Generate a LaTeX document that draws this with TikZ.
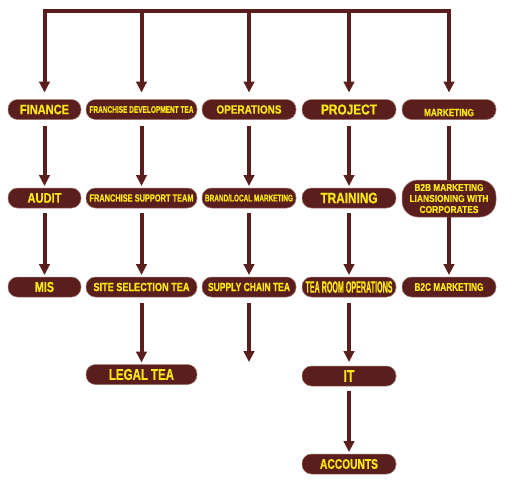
\documentclass[tikz,border=0pt]{standalone}
\usepackage{graphicx}
\usepackage{fontspec}
\setmainfont{Liberation Sans}[BoldFeatures={FakeBold=0.8}]
\usetikzlibrary{arrows.meta}
\definecolor{maroon}{RGB}{90,30,28}
\definecolor{yel}{RGB}{250,232,20}
\definecolor{edge}{RGB}{160,120,115}
\newcommand{\bt}[3]{\resizebox{#1pt}{#2pt}{\bfseries #3}}
\begin{document}
\begin{tikzpicture}[x=1pt,y=-1pt,
  box/.style={rectangle, rounded corners=9.5pt, fill=maroon, draw=edge, line width=0.5pt,
    inner sep=0pt, outer sep=0pt, minimum height=20pt, minimum width=94pt, text=yel},
  wide/.style={minimum width=111pt},
  narrow/.style={minimum width=73pt},
  lineconn/.style={draw=maroon, line width=4pt, line join=miter},
  arr/.style={lineconn, -{Triangle[width=10.5pt,length=11pt]}}
]
\useasboundingbox (0,0) rectangle (512,488);
\fill[white] (0,0) rectangle (512,488);

% row 1
\node[box, narrow] (fin) at (44.5,109.5) {\bt{49}{9.5}{FINANCE}};
\node[box, wide] (fdev) at (141.5,109.5) {\bt{104}{6.7}{FRANCHISE DEVELOPMENT TEA}};
\node[box] (ops) at (249,109.5) {\bt{65}{8.3}{OPERATIONS}};
\node[box] (proj) at (349,109.5) {\bt{56}{10}{PROJECT}};
\node[box] (mkt) at (449,109.5) {\raisebox{-3pt}[7.3pt][0pt]{\bt{50}{7.3}{MARKETING}}};

% row 2
\node[box, narrow] (aud) at (44.5,198) {\bt{34}{9.5}{AUDIT}};
\node[box, wide] (fsup) at (141.5,198) {\bt{104}{7.3}{FRANCHISE SUPPORT TEAM}};
\node[box] (brand) at (249,198) {\bt{88}{7}{BRAND/LOCAL MARKETING}};
\node[box] (train) at (349,198) {\bt{57}{10.5}{TRAINING}};
\node[box, minimum height=37pt, rounded corners=16pt, align=center,
  font=\fontsize{8}{11}\selectfont] (b2b) at (449,198.5)
  {\bt{69}{7}{B2B MARKETING}\\\bt{79}{7}{LIANSIONING WITH}\\\bt{59}{7}{CORPORATES}};

% row 3
\node[box, narrow] (mis) at (44.5,287) {\bt{19}{10}{MIS}};
\node[box, wide] (ssel) at (141.5,287) {\bt{96}{8.3}{SITE SELECTION TEA}};
\node[box] (sup) at (249,287) {\bt{82}{8.3}{SUPPLY CHAIN TEA}};
\node[box] (tro) at (349,287) {\bt{87}{11.5}{TEA ROOM OPERATIONS}};
\node[box] (b2c) at (449,287) {\bt{69}{7.7}{B2C MARKETING}};

% row 4
\node[box, wide] (legal) at (141.5,374.5) {\bt{65}{11}{LEGAL TEA}};
\node[box] (it) at (349,376) {\bt{11}{11.5}{IT}};
\node[box] (acc) at (349,464) {\bt{58}{9.7}{ACCOUNTS}};

\coordinate (bar) at (249,10.5);
\coordinate (supend) at (249,362);

% top distribution
\draw[lineconn, {Triangle[width=10.5pt,length=11pt]}-{Triangle[width=10.5pt,length=11pt]},
  shorten <=7pt, shorten >=7pt] (fin.north) |- (bar) -| (mkt.north);
\draw[arr, shorten >=7pt] (bar -| fdev) -- (fdev);
\draw[arr, shorten >=7pt] (bar) -- (ops);
\draw[arr, shorten >=7pt] (bar -| proj) -- (proj);

% row 1 -> row 2
\draw[arr, shorten <=6pt, shorten >=2pt] (fin) -- (aud);
\draw[arr, shorten <=6pt, shorten >=2pt] (fdev) -- (fsup);
\draw[arr, shorten <=6pt, shorten >=2pt] (ops) -- (brand);
\draw[arr, shorten <=6pt, shorten >=2pt] (proj) -- (train);
\draw[lineconn, shorten <=6pt] (mkt) -- (b2b);

% row 2 -> row 3
\draw[arr, shorten <=5pt, shorten >=2pt] (aud) -- (mis);
\draw[arr, shorten <=5pt, shorten >=2pt] (fsup) -- (ssel);
\draw[arr, shorten <=5pt, shorten >=2pt] (brand) -- (sup);
\draw[arr, shorten <=5pt, shorten >=2pt] (train) -- (tro);
\draw[arr, shorten >=2pt] (b2b) -- (b2c);

% row 3 -> row 4
\draw[arr, shorten <=6pt, shorten >=2pt] (ssel) -- (legal);
\draw[arr, shorten <=6pt] (sup) -- (supend);
\draw[arr, shorten <=6pt, shorten >=4pt] (tro) -- (it);

% it -> accounts
\draw[arr, shorten <=5pt, shorten >=2pt] (it) -- (acc);
\end{tikzpicture}
\end{document}
